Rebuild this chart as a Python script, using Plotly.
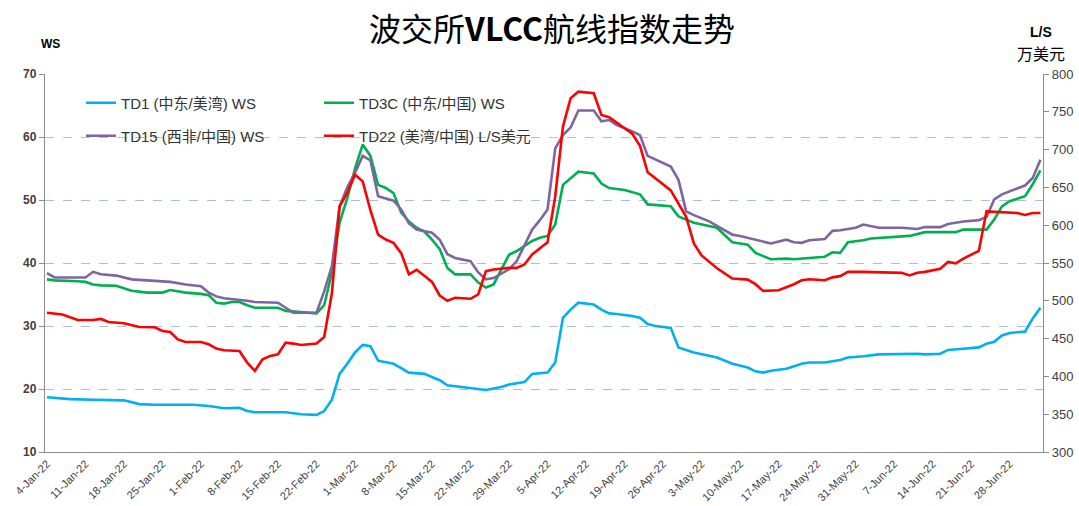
import plotly.graph_objects as go

# ---------------- data ----------------
td1_dates = ["01-04","01-07","01-12","01-18","01-20","01-24","01-31","02-02","02-04","02-08",
             "02-09","02-10","02-16","02-18","02-22","02-23","02-24","02-25","02-28","03-01",
             "03-02","03-03","03-04","03-07","03-08","03-09","03-10","03-14","03-15","03-16",
             "03-17","03-21","03-23","03-24","03-28","03-29","03-31","04-01","04-05","04-06",
             "04-07","04-08","04-11","04-13","04-14","04-15","04-18","04-20","04-21","04-22",
             "04-25","04-27","04-28","05-02","05-05","05-09","05-11","05-12","05-13","05-16",
             "05-18","05-20","05-23","05-25","05-27","05-30","06-01","06-03","06-10","06-13",
             "06-15","06-16","06-20","06-22","06-23","06-24","06-27","06-28","06-29","06-30",
             "07-01","07-04"]
td1_values = [18.7,18.4,18.3,18.2,17.6,17.5,17.5,17.3,16.95,17.0,
              16.5,16.3,16.3,16.0,15.9,16.5,18.3,22.4,24.0,25.8,
              27.0,26.8,24.5,24.2,24.0,23.3,22.6,22.4,21.9,21.4,
              20.6,20.3,20.0,19.85,20.3,20.7,21.1,22.4,22.6,24.2,
              31.3,32.6,33.7,33.4,32.6,32.0,31.9,31.6,31.3,30.3,
              30.0,29.7,26.6,25.8,25.0,24.0,23.4,22.8,22.6,22.9,
              23.2,24.0,24.2,24.2,24.6,25.0,25.2,25.5,25.6,25.5,
              25.6,26.2,26.4,26.6,27.2,27.5,28.5,28.9,29.0,29.1,
              31.2,32.9]

td3c_dates = ["01-04","01-05","01-10","01-11","01-12","01-13","01-17","01-19","01-21","01-25",
              "01-26","01-28","02-01","02-02","02-03","02-04","02-07","02-08","02-09","02-10",
              "02-15","02-16","02-22","02-23","02-24","02-25","02-28","03-01","03-02","03-03",
              "03-04","03-07","03-08","03-09","03-10","03-11","03-14","03-15","03-16","03-17",
              "03-18","03-22","03-23","03-24","03-25","03-28","03-29","03-30","04-01","04-04",
              "04-05","04-06","04-07","04-11","04-13","04-14","04-15","04-19","04-20","04-21",
              "04-22","04-27","04-28","05-02","05-05","05-09","05-11","05-12","05-16","05-18",
              "05-19","05-20","05-25","05-26","05-27","05-30","06-01","06-02","06-09","06-13",
              "06-17","06-20","06-23","06-24","06-27","06-28","06-30","07-01","07-04"]
td3c_values = [37.4,37.25,37.1,37.0,36.6,36.45,36.4,35.6,35.3,35.3,
               35.7,35.3,35.1,34.9,33.7,33.55,33.8,33.8,33.3,32.9,
               32.9,32.4,32.0,33.3,38.5,46.4,50.3,55.0,58.8,57.0,
               52.4,51.9,51.1,48.0,46.6,45.6,45.0,43.7,42.2,39.2,
               38.2,38.2,36.9,36.1,36.6,39.0,41.3,41.9,43.5,44.0,
               44.3,46.1,52.4,54.5,54.2,52.6,51.9,51.6,51.2,50.9,
               49.3,49.0,47.4,46.4,45.6,43.3,42.9,41.6,40.6,40.7,
               40.6,40.7,41.0,41.7,41.6,43.3,43.6,43.9,44.3,44.9,
               44.9,45.3,45.3,46.9,49.0,49.8,50.6,52.5,54.7]

td15_dates = ["01-04","01-05","01-11","01-12","01-13","01-17","01-19","01-21","01-26","01-28",
              "02-01","02-02","02-03","02-04","02-07","02-09","02-10","02-15","02-16","02-17",
              "02-22","02-23","02-24","02-25","02-28","03-01","03-02","03-03","03-04","03-07",
              "03-08","03-09","03-10","03-11","03-15","03-16","03-17","03-18","03-21","03-22",
              "03-23","03-24","03-25","03-29","03-30","04-01","04-04","04-05","04-06","04-07",
              "04-08","04-11","04-13","04-14","04-15","04-18","04-20","04-21","04-22","04-27",
              "04-28","04-29","05-02","05-04","05-05","05-09","05-10","05-12","05-16","05-18",
              "05-19","05-20","05-23","05-25","05-26","05-27","05-30","05-31","06-01","06-03",
              "06-08","06-10","06-13","06-15","06-16","06-20","06-22","06-23","06-24","06-27",
              "06-30","07-01","07-04"]
td15_values = [38.4,37.7,37.7,38.6,38.2,38.0,37.4,37.25,37.0,36.6,
               36.3,35.3,34.7,34.4,34.3,34.0,33.8,33.7,32.9,32.1,
               32.1,35.5,39.5,49.0,52.0,54.3,57.0,56.3,50.6,50.3,
               49.9,48.5,46.3,45.3,44.8,43.7,41.4,40.8,40.6,40.3,
               38.5,37.4,37.6,39.0,40.3,45.3,46.8,48.5,58.2,60.3,
               61.5,64.2,64.2,62.5,62.7,61.9,60.9,60.3,57.0,55.3,
               53.2,48.2,47.6,46.6,45.9,44.5,44.3,43.7,43.1,43.7,
               43.3,43.2,43.6,43.8,45.1,45.2,45.4,45.6,46.1,45.6,
               45.6,45.4,45.7,45.7,46.2,46.6,46.8,47.3,50.1,50.9,
               52.3,53.5,56.4]

td22_dates = ["01-04","01-06","01-10","01-12","01-13","01-14","01-18","01-20","01-24","01-25",
              "01-26","01-27","01-28","02-01","02-02","02-03","02-04","02-08","02-09","02-10",
              "02-11","02-14","02-15","02-16","02-17","02-18","02-22","02-23","02-24","02-25",
              "02-28","03-01","03-02","03-03","03-04","03-07","03-08","03-09","03-10","03-11",
              "03-14","03-15","03-16","03-17","03-18","03-22","03-23","03-24","03-25","03-29",
              "03-30","03-31","04-01","04-05","04-06","04-07","04-08","04-11","04-13","04-14",
              "04-15","04-20","04-21","04-22","04-25","04-27","04-29","05-02","05-03","05-05",
              "05-09","05-11","05-12","05-13","05-17","05-18","05-19","05-20","05-23","05-25",
              "05-26","05-27","05-30","06-01","06-08","06-09","06-10","06-13","06-15","06-16",
              "06-17","06-20","06-22","06-23","06-27","06-29","06-30","07-01","07-04"]
td22_values = [484.3,482,474.6,474.6,476.0,472,470.2,465.3,465,460,
               458.7,449,445.6,445.6,442.5,436.8,434.6,433.5,418.3,407.3,
               422.7,427.1,429.3,444.7,443.4,441.6,443.4,452,510,625,
               642.6,666.8,658,620,587.6,581,576.6,563,535,541,
               533,525,507,500,504,502.7,508.4,539.2,541.4,543.6,
               543.6,548,561.2,577.5,638,730.5,767.9,776.7,774.5,745.9,
               742.8,721,705,670,662,646,611,576,560,543,
               529.4,528.0,522,513.1,514.0,517.5,521.9,527.2,528.5,527.2,
               531,532.6,538.3,538.3,537,533.5,537,538.3,542.3,551.5,
               549.5,555.9,566,618.3,617.5,616.2,613.6,616.2,616.2]

tick_dates = ["01-04","01-11","01-18","01-25","02-01","02-08","02-15","02-22","03-01",
              "03-08","03-15","03-22","03-29","04-05","04-12","04-19","04-26","05-03",
              "05-10","05-17","05-24","05-31","06-07","06-14","06-21","06-28"]
tick_labels = ["4-Jan-22","11-Jan-22","18-Jan-22","25-Jan-22","1-Feb-22","8-Feb-22",
               "15-Feb-22","22-Feb-22","1-Mar-22","8-Mar-22","15-Mar-22","22-Mar-22",
               "29-Mar-22","5-Apr-22","12-Apr-22","19-Apr-22","26-Apr-22","3-May-22",
               "10-May-22","17-May-22","24-May-22","31-May-22","7-Jun-22","14-Jun-22",
               "21-Jun-22","28-Jun-22"]

names = ["TD1 (中东/美湾) WS", "TD3C (中东/中国) WS", "TD15 (西非/中国) WS", "TD22 (美湾/中国) L/S美元"]
colors = ["#00B0F0", "#00B050", "#8064A2", "#FF0000"]

YEAR = "2022-"
def full(ds):
    return [YEAR + d for d in ds]

FONT = "Liberation Sans, Arial, Noto Sans CJK SC, sans-serif"
CJK = "Noto Sans CJK SC, Liberation Sans, sans-serif"

W, H = 1079, 506
ML, MR, MT, MB = 45, 36, 74, 54
PW, PH = W - ML - MR, H - MT - MB

def px(xp):   # page pixel -> paper x
    return (xp - ML) / PW

def py(yp):   # page pixel -> paper y
    return (H - MB - yp) / PH

fig = go.Figure()
series = [(td1_dates, td1_values, "y", "legend"),
          (td3c_dates, td3c_values, "y", "legend2"),
          (td15_dates, td15_values, "y", "legend3"),
          (td22_dates, td22_values, "y2", "legend4")]
for k, (ds, vs, ax, lg) in enumerate(series):
    fig.add_trace(go.Scatter(x=full(ds), y=vs, mode="lines", name=names[k],
                             line=dict(color=colors[k], width=2.6),
                             yaxis=ax, legend=lg, showlegend=True))

legend_common = dict(bgcolor="rgba(0,0,0,0)", borderwidth=0, visible=True,
                     font=dict(family=FONT, size=15, color="#333333"),
                     xanchor="left", yanchor="middle", itemwidth=30)
fig.update_layout(
    width=W, height=H, showlegend=True,
    margin=dict(l=ML, r=MR, t=MT, b=MB, autoexpand=False),
    paper_bgcolor="white", plot_bgcolor="white",
    title=dict(text="波交所<b>VLCC</b>航线指数走势", x=552 / W, xanchor="center",
               y=1 - 30 / H, yanchor="middle", yref="container", automargin=False,
               font=dict(family=CJK, size=32, color="#000000")),
    legend=dict(x=px(81), y=py(103), **legend_common),
    legend2=dict(x=px(319), y=py(103), **legend_common),
    legend3=dict(x=px(81), y=py(136), **legend_common),
    legend4=dict(x=px(319), y=py(136), **legend_common),
    xaxis=dict(type="date", automargin=False,
               rangebreaks=[dict(bounds=["sat", "mon"])],
               range=["2022-01-03 18:00", "2022-07-04 08:00"],
               tickvals=full(tick_dates), ticktext=tick_labels, tickangle=-45,
               tickfont=dict(family=FONT, size=11, color="#404040"),
               showline=True, linecolor="#8c8c8c", linewidth=1.3,
               showgrid=False, zeroline=False, ticks=""),
    yaxis=dict(range=[10, 70], dtick=10, tick0=10, automargin=False,
               showline=True, linecolor="#8c8c8c", linewidth=1.3,
               ticks="outside", ticklen=5, tickcolor="#8c8c8c",
               showgrid=True, gridcolor="#A9BFDD", griddash="dash", gridwidth=1,
               zeroline=False,
               tickfont=dict(family=FONT, size=12, color="#404040", weight="bold")),
    yaxis2=dict(range=[300, 800], dtick=50, tick0=300, overlaying="y", side="right",
                automargin=False,
                showline=True, linecolor="#8c8c8c", linewidth=1.3,
                ticks="outside", ticklen=5, tickcolor="#8c8c8c",
                showgrid=False, zeroline=False,
                tickfont=dict(family=FONT, size=13, color="#404040")),
)

fig.add_annotation(text="<b>WS</b>", x=px(50), y=py(44), xref="paper", yref="paper",
                   showarrow=False, font=dict(family=FONT, size=12, color="#000000"),
                   xanchor="center", yanchor="middle")
fig.add_annotation(text="<b>L/S</b>", x=px(1041), y=py(32), xref="paper", yref="paper",
                   showarrow=False, font=dict(family=FONT, size=14, color="#000000"),
                   xanchor="center", yanchor="middle")
fig.add_annotation(text="万美元", x=px(1041), y=py(53), xref="paper", yref="paper",
                   showarrow=False, font=dict(family=CJK, size=16, color="#000000"),
                   xanchor="center", yanchor="middle")

fig.write_html("out.html", config={"displayModeBar": False},
               post_script="document.body.style.margin='0';document.body.style.padding='0';")
